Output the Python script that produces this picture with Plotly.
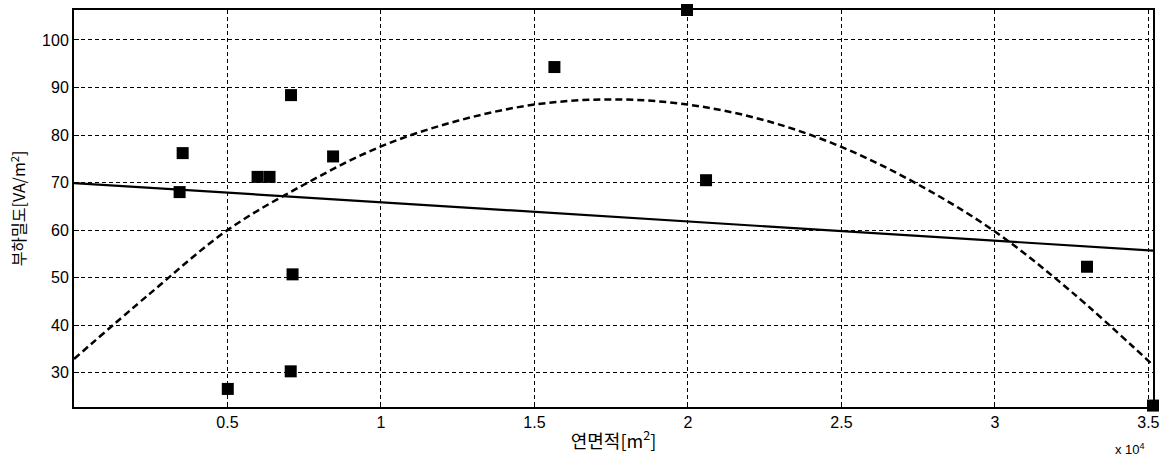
import plotly.graph_objects as go

# Scatter data: floor area [m^2] vs load density [VA/m^2]
area = [3440, 3540, 5010, 5980, 6370, 7070, 7120, 7060, 8440, 15650, 19970, 20590, 33000, 35150]
density = [68.0, 76.2, 26.6, 71.2, 71.2, 88.4, 50.7, 30.3, 75.5, 94.3, 106.3, 70.5, 52.3, 23.1]

# Linear fit line (solid)
lin_x = [0, 35150]
lin_y = [69.9, 55.7]

# Quadratic fit curve (dashed)
quad_x = [0, 2500, 5000, 7500, 10000, 12500, 15000, 17500, 20000, 22500, 25000, 27500, 30000, 32500, 35150]
quad_y = [32.9, 46.8, 60.0, 69.6, 77.6, 83.0, 86.4, 87.5, 86.4, 83.1, 77.5, 69.6, 59.7, 47.0, 31.6]

x_tickvals = [5000, 10000, 15000, 20000, 25000, 30000, 35000]
x_ticktext = ["0.5", "1", "1.5", "2", "2.5", "3", "3.5"]
y_tickvals = [30, 40, 50, 60, 70, 80, 90, 100]

font_family = "Liberation Sans, Arial, sans-serif"

fig = go.Figure()
fig.add_trace(go.Scatter(x=quad_x, y=quad_y, mode="lines",
                         line=dict(color="black", width=2.5, dash="7px,4px", shape="spline"),
                         showlegend=False, cliponaxis=False))
fig.add_trace(go.Scatter(x=lin_x, y=lin_y, mode="lines",
                         line=dict(color="black", width=2.2),
                         showlegend=False))
fig.add_trace(go.Scatter(x=area, y=density, mode="markers",
                         marker=dict(symbol="square", size=12, color="black"),
                         showlegend=False, cliponaxis=False))

fig.update_layout(
    template="none",
    width=1162, height=459,
    margin=dict(l=74, r=9, t=10, b=52, autoexpand=False),
    paper_bgcolor="white", plot_bgcolor="white",
    font=dict(family=font_family, size=16, color="black"),
    xaxis=dict(
        range=[0, 35150], automargin=False,
        tickvals=x_tickvals, ticktext=x_ticktext,
        showgrid=True, gridcolor="black", gridwidth=1, griddash="4px,3px",
        showline=True, linecolor="black", linewidth=2, mirror=True,
        ticks="inside", ticklen=5, tickcolor="black",
        zeroline=False,
        title=dict(text="연면적[m<sup>2</sup>]", standoff=5,
                   font=dict(family="Noto Sans CJK KR, sans-serif", size=18)),
    ),
    yaxis=dict(
        range=[22.8, 106.3], automargin=False,
        tickvals=y_tickvals,
        showgrid=True, gridcolor="black", gridwidth=1, griddash="4px,3px",
        showline=True, linecolor="black", linewidth=2, mirror=True,
        ticks="inside", ticklen=5, tickcolor="black",
        zeroline=False,
        title=dict(text="부하밀도[VA/m<sup>2</sup>]", standoff=12,
                   font=dict(family="Noto Sans CJK KR, sans-serif", size=16)),
    ),
)

fig.add_annotation(text="x 10<sup>4</sup>", xref="paper", yref="paper",
                   x=0.994, y=-0.08, xanchor="right", yanchor="top",
                   showarrow=False, font=dict(size=13, family=font_family))

fig.write_html("out.html", config={"displayModeBar": False},
               post_script="document.body.style.margin='0';document.body.style.overflow='hidden';")
